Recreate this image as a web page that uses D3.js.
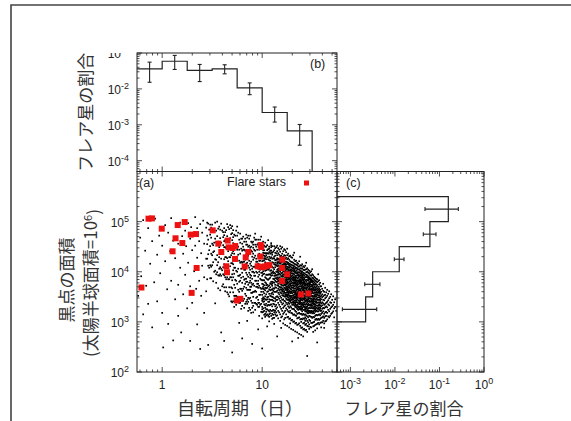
<!DOCTYPE html>
<html>
<head>
<meta charset="utf-8">
<script src="https://cdn.jsdelivr.net/npm/d3@7"></script>
<style>
  body { margin: 0; background: #fff; }
  svg { display: block; font-family: "Liberation Sans", Arial, sans-serif; }
  .jp { font-family: "Noto Sans CJK JP", sans-serif; fill: #333; }
</style>
</head>
<body>
<div id="chart"></div>
<script>
// ---- (b) flare-star fraction per rotation-period bin ----
const periodBinEdges = [0.56, 1, 1.78, 3.16, 5.62, 10, 17.8, 31.6];
const periodFraction = [0.036, 0.059, 0.033, 0.036, 0.0107, 0.0022, 0.00068];
const periodFracLow  = [0.0153, 0.0348, 0.016, 0.0263, 0.0069, 0.00119, 0.00027];
const periodFracHigh = [0.0556, 0.0857, 0.048, 0.047, 0.0147, 0.00313, 0.00102];

// ---- (c) flare-star fraction per spot-area bin ----
const areaBinEdges = [1000, 3162, 10000, 31623, 100000, 316228];
const areaFraction = [0.0022, 0.00316, 0.0125, 0.061, 0.158];
const areaFracLow  = [0.00066, 0.0021, 0.00968, 0.0433, 0.0473];
const areaFracHigh = [0.0039, 0.0046, 0.016, 0.0836, 0.265];

// ---- (a) flare stars: period (days), spot area (1e-6 hemisphere) ----
const flarePeriod = [0.73, 0.79, 0.99, 1.43, 1.68, 1.36, 1.59, 1.27, 1.93, 2.18, 3.20, 2.21, 0.62, 1.97,
  3.64, 4.52, 3.90, 4.62, 5.07, 5.38, 5.35, 4.38, 4.45, 5.56, 6.04, 7.26, 6.84, 6.68, 9.66, 9.79,
  9.57, 9.02, 9.96, 10.6, 11.2, 11.8, 15.9, 15.8, 17.8, 15.8, 24.3, 28.9];
const flareArea = [114500, 116000, 72400, 85400, 98000, 46500, 37400, 25600, 55000, 56500, 67000, 11900, 4850, 3790,
  36400, 41800, 24800, 30700, 29800, 32600, 18000, 12850, 9770, 2670, 2880, 24800, 19400, 12700, 34100, 31200,
  20100, 12850, 12300, 12700, 13300, 13500, 17500, 11900, 8900, 6560, 3520, 3680];

// ---- (a) all stars, read off the cloud column by column ----
// [log10 period, "log10 area x100 ..."]
const starColumns = [
  [-0.24,"352"],[-0.22,"468"],[-0.21,"391"],[-0.19,"503 315"],[-0.17,"442"],[-0.16,"372"],[-0.14,"487 336"],
  [-0.12,"416"],[-0.1,"461 289"],[-0.08,"379"],[-0.07,"506"],[-0.05,"434 341"],[-0.03,"472"],[-0.02,"397"],
  [0.0,"452 318"],[0.01,"249"],[0.03,"493 421"],[0.05,"365"],[0.06,"478 296"],[0.08,"441"],[0.09,"507 382"],
  [0.11,"462 263"],[0.13,"427 345"],[0.14,"489"],[0.16,"456 374 312"],[0.18,"498 408"],[0.19,"279"],[0.2,"471"],
  [0.21,"436 355"],[0.23,"482 394"],[0.24,"451"],[0.25,"327"],[0.26,"497 418"],[0.28,"466 371 262"],[0.29,"489"],
  [0.3,"443 338"],[0.32,"476 401"],[0.33,"509 452"],[0.34,"366"],[0.35,"487 428 295"],[0.37,"461 382"],
  [0.38,"495 246"],[0.39,"437 352"],[0.4,"478 412"],[0.41,"502"],[0.42,"456 389 318"],[0.44,"488 426 361"],
  [0.45,"498 472 455 426 385"],[0.46,"496 464 435 412 254"],[0.47,"484 443 408"],[0.48,"494 474 451 413 387"],
  [0.49,"488 468 436 410 387"],[0.5,"494 456 433 413"],[0.51,"482 453 439 419 381"],[0.52,"484 458 441 400"],
  [0.53,"498 466 425 402 337"],[0.54,"482 459 424 395 378"],[0.55,"500 471 433 413 399"],[0.56,"486 460 419 393 367"],
  [0.57,"490 449 429 406 392"],[0.58,"484 467 435 409 395 363"],[0.59,"496 458 426 406 392 279"],[0.6,"482 441 403 371"],
  [0.61,"479 469 453 435 409 395 375"],[0.62,"487 473 461 449 425 415 393 369 262"],[0.63,"479 463 449 429 401 389 361"],
  [0.64,"483 461 447 429 413 385 369"],[0.65,"495 471 447 427 401 389 359"],[0.66,"489 461 441 421 397 385 355"],
  [0.67,"485 463 451 429 401 385 369 351"],[0.68,"493 467 451 429 411 389 359"],[0.69,"487 475 447 433 417 389 369 341"],
  [0.7,"491 477 463 437 417 395 383 367 339 239"],[0.71,"483 469 457 441 415 403 389 359 341"],
  [0.72,"474 452 436 422 408 396 374 352 330"],[0.73,"472 448 428 408 384 368 352"],[0.74,"482 454 424 402 382 352 334"],
  [0.75,"490 472 444 430 400 376 350"],[0.76,"478 450 434 406 392 364 348"],[0.77,"464 444 422 392 380 360 338 298"],
  [0.78,"476 458 436 418 394 382 366 338"],[0.79,"466 446 420 406 388 366 350 326"],
  [0.8,"466 456 442 418 398 378 362 342 332 267"],[0.81,"470 450 444 420 408 390 366 342"],
  [0.82,"460 444 420 404 384 370 346 328"],[0.83,"466 442 424 404 386 376 356 336"],
  [0.84,"474 460 454 434 416 398 386 380 368 352 340"],[0.85,"468 454 434 418 394 380 364 344 336 302"],
  [0.86,"472 450 440 432 412 390 374 364 348 340 322"],[0.87,"466 452 442 422 408 398 378 364 346 328"],
  [0.88,"472 448 440 416 404 394 388 382 370 364 348 324"],[0.89,"460 450 442 420 412 392 378 370 358 342 318"],
  [0.9,"458 440 430 406 400 386 374 358 338 328 256"],[0.91,"460 454 448 436 424 410 400 376 360 350 332 319"],
  [0.92,"468 444 428 410 398 392 372 360 338"],[0.93,"476 464 454 442 432 410 392 382 362 338 324"],
  [0.94,"464 450 426 420 400 382 370 360 348 336"],[0.95,"454 444 420 398 376 370 350 334"],
  [0.96,"464 456 432 416 406 390 382 376 368 344 338 330 285"],[0.97,"454 444 436 422 400 394 372 354 338 330 312"],
  [0.98,"464 454 432 422 410 404 386 368 354 334"],[0.99,"470 446 434 412 398 384 366 360 336 320"],
  [1.0,"458 454 445 433 427 421 414 409 398 392 383 376 367 354 346 342 330 325 319 307 247"],
  [1.01,"460 448 443 438 433 422 414 405 401 395 383 375 370 366 360 349 345 340 327 320"],
  [1.02,"452 443 437 432 427 423 414 405 396 383 373 365 357 347 341 335 322 314"],
  [1.03,"458 450 437 430 426 419 407 402 389 379 368 363 351 345 333 328 316 310"],
  [1.04,"450 437 433 425 416 410 403 394 387 377 373 367 355 344 336 325 320 313"],
  [1.05,"453 443 437 429 416 405 394 385 374 368 360 349 345 332 325 315 291"],
  [1.06,"463 445 436 425 417 404 394 384 371 361 350 340 334 323 312"],
  [1.07,"450 446 439 430 423 414 406 395 386 373 365 356 345 340 333 321 315 310 301"],
  [1.08,"442 436 427 422 412 402 394 388 377 369 363 352 344 334 324 317"],
  [1.09,"457 453 449 442 438 429 416 403 397 392 380 375 364 356 351 344 335 322 312"],
  [1.1,"451 438 434 426 419 410 399 393 380 376 372 365 358 350 344 331 322 316 306"],
  [1.11,"440 427 418 408 401 397 386 379 367 362 355 349 342 336 324 314 308"],
  [1.12,"451 443 430 426 415 405 398 392 385 378 366 360 347 335 323 319 308 296"],
  [1.13,"447 438 432 423 418 414 409 396 392 387 382 374 369 360 347 341 331 322 315"],
  [1.14,"449 437 424 413 400 393 387 380 368 360 350 344 334 326 319 312"],
  [1.15,"452 441 433 427 424 419 416 411 404 400 394 389 385 380 373 362 351 344 329 313 271"],
  [1.16,"447 437 426 419 413 406 402 398 394 387 382 376 372 366 358 349 338 322 307"],
  [1.17,"444 434 425 421 417 410 406 402 396 389 384 381 377 370 363 355 346 334 319"],
  [1.18,"451 440 431 424 419 416 409 403 400 394 387 383 376 369 365 359 351 342 330 315 302"],
  [1.19,"446 432 423 418 411 407 404 397 391 386 379 374 369 364 357 348 339 326 309 288"],
  [1.2,"449 436 429 423 420 414 407 404 398 393 390 384 380 373 367 363 360 353 344 335 322 311"],
  [1.21,"441 430 422 415 408 401 395 391 384 381 377 372 365 361 356 352 345 337 328 316 297"],
  [1.22,"445 433 427 421 418 415 409 406 400 394 387 380 376 373 368 361 358 351 342 331 319 305"],
  [1.23,"443 432 426 420 416 414 411 408 402 399 396 394 389 384 380 375 373 367 364 358 354 350 341 333 322 308 294"],
  [1.24,"439 428 420 414 410 406 404 400 394 391 388 385 383 378 375 371 368 364 358 354 352 346 338 327 315"],
  [1.25,"446 433 425 419 416 410 406 400 398 396 394 389 385 381 379 376 370 366 364 362 359 354 352 350 344 335 324 309 292"],
  [1.26,"436 427 418 415 409 405 402 400 398 396 392 388 384 378 373 369 365 360 357 354 348 344 338 331 321 310"],
  [1.27,"431 424 416 412 408 402 399 397 394 388 386 380 375 370 368 362 359 353 351 345 342 336 328 319 306 289"],
  [1.28,"432 421 415 411 405 403 399 395 392 389 385 382 377 375 372 366 361 357 352 350 347 343 340 331 322 307 297"],
  [1.29,"429 420 414 409 404 401 397 391 386 381 377 372 369 365 360 358 352 349 344 338 329 318 303 286"],
  [1.3,"428 419 413 407 403 397 393 388 384 378 373 368 362 357 352 347 344 339 334 326 317 304 261"],
  [1.31,"433 418 412 408 406 401 396 391 388 386 383 379 376 372 368 363 359 353 349 345 340 338 335 326 314 300 284"],
  [1.32,"438 424 416 411 405 402 400 395 389 385 382 378 376 371 366 362 359 354 350 347 342 338 333 325 315 301"],
  [1.33,"421 415 409 406 400 398 392 389 386 384 382 379 377 373 367 361 358 356 350 348 343 339 337 334 330 322 313 297 281"],
  [1.34,"422 414 408 402 397 392 389 383 381 377 374 370 365 362 356 354 352 349 346 342 339 333 329 320 312 298"],
  [1.35,"418 413 407 404 399 397 393 387 383 378 375 373 368 365 359 357 354 351 348 345 339 334 331 326 316 307 294 279"],
  [1.36,"416 410 405 399 395 392 388 382 380 375 370 367 364 361 358 352 349 343 337 331 329 324 317 308 295 268"],
  [1.37,"421 411 404 399 393 391 385 382 380 377 371 367 363 357 351 347 341 338 335 330 326 318 309 297 276"],
  [1.38,"430 413 407 402 396 392 388 384 382 380 378 375 371 365 362 356 354 352 347 344 342 340 336 330 327 325 316 305 292"],
  [1.39,"412 406 401 398 396 392 388 383 381 379 377 371 367 361 358 356 350 348 344 338 334 331 327 324 316 306 300 288 274"],
  [1.4,"415 407 400 395 393 390 387 384 378 374 372 368 364 358 356 351 347 343 337 334 328 326 321 314 305 289"],
  [1.41,"411 404 398 394 389 384 382 379 376 370 367 364 362 358 353 347 345 339 335 333 330 324 316 307 297 285 271"],
  [1.42,"409 403 397 392 387 385 380 378 376 373 369 366 362 359 353 349 346 344 338 335 330 324 314 306 298 286"],
  [1.43,"412 404 395 389 383 377 375 372 367 361 358 353 351 347 342 340 334 329 327 324 321 315 309 302 294 283"],
  [1.44,"418 405 399 394 390 384 380 375 369 367 364 358 354 350 345 342 336 330 327 321 313 306 296 284"],
  [1.45,"407 400 393 389 383 377 374 372 368 362 357 354 351 345 342 339 334 330 325 322 318 311 302 292 280 232"],
  [1.46,"404 398 391 388 385 382 376 371 365 359 355 352 348 345 341 336 333 327 323 321 317 309 299 291"],
  [1.47,"402 396 389 387 385 379 377 375 373 369 366 362 356 354 351 347 342 340 334 328 322 319 312 304 295 286"],
  [1.48,"399 393 387 384 381 378 375 370 365 363 357 353 350 346 340 335 332 327 321 318 311 302 290"],
  [1.49,"401 392 385 382 380 374 371 366 364 361 356 352 346 342 340 335 332 328 322 319 310 298 289"],
  [1.5,"405 395 388 383 381 379 373 370 365 361 358 352 350 344 341 337 332 327 321 317 308 298"],
  [1.51,"393 387 381 376 374 368 366 363 357 351 347 345 342 340 338 335 329 327 321 318 310 299 291 280"],
  [1.52,"390 384 379 374 370 365 362 358 353 350 346 341 336 334 330 327 323 317 309 300 292"],
  [1.53,"388 382 377 374 368 365 363 358 354 350 344 340 335 331 327 324 320 312 304 294 283"],
  [1.54,"386 381 375 370 365 360 358 354 351 346 341 338 333 328 322 314 306 295"],
  [1.55,"385 379 373 367 363 358 354 348 344 338 332 326 321 313 304 296 287 259"],
  [1.56,"395 381 370 365 361 358 353 349 344 339 333 329 326 321 314 306 298"],
  [1.57,"383 375 367 363 360 358 353 349 344 338 335 333 329 324 315 304 295"],
  [1.58,"378 371 364 359 356 350 346 342 339 333 328 326 322 313 306 298"],
  [1.59,"371 360 352 345 337 331 322 316 308 299 289"],
  [1.6,"366 355 349 339 333 326 318 309 299"],
  [1.61,"376 362 351 344 337 328 321 311 302"],
  [1.62,"360 353 343 334 327 316 308 297 288"],
  [1.63,"368 354 347 336 329 319 311 301"],
  [1.64,"359 349 338 331 320 312 302"],
  [1.65,"364 352 340 329 318 305"],
  [1.66,"356 343 335 324 311"],
  [1.67,"361 347 333 321 309"],
  [1.68,"350 339 326 312"],
  [1.69,"355 338 329 316"],
  [1.7,"344 331 318"],
  [1.71,"351 334 321"],
  [1.72,"339 327 309"],
  [1.73,"345 330"],
  [1.74,"322"]
];
const starDots = [];
starColumns.forEach(([lp, s]) => {
    s.split(" ").forEach(v => starDots.push({ p: 10 ** lp, a: 10 ** (+v / 100) }));
});

// tick values
const periodTicks = [1, 10];
const areaTickExp = [2, 3, 4, 5];
const fracTickExp = [-4, -3, -2, -1];
const fracXTickExp = [-3, -2, -1, 0];

const W = 571, H = 421;
const plotLeft = 137, plotMid = 337, plotRight = 484, plotTop = 53, plotSplit = 171.5, plotBottom = 372;

const svg = d3.select("#chart").append("svg")
    .attr("width", W)
    .attr("height", H);

const xP = d3.scaleLog().domain([0.56, 56]).range([plotLeft, plotMid]);
const yA = d3.scaleLog().domain([1e2, 1e6]).range([plotBottom, plotSplit]);
const yF = d3.scaleLog().domain([5e-5, 0.1]).range([plotSplit, plotTop]);
const xF = d3.scaleLog().domain([5e-4, 1]).range([plotMid, plotRight]);

// outer frame
svg.append("path")
    .attr("d", `M11,${H} V5 H${W}`)
    .attr("fill", "none")
    .attr("stroke", "#444")
    .attr("stroke-width", 1.6);

svg.append("clipPath").attr("id", "clipA")
    .append("rect")
    .attr("x", plotLeft).attr("y", plotSplit)
    .attr("width", plotMid - plotLeft).attr("height", plotBottom - plotSplit);

// scatter
const dotSize = 1.7;
const dots = svg.append("g").attr("clip-path", "url(#clipA)");
dots.selectAll("rect")
    .data(starDots)
    .enter()
    .append("rect")
    .attr("x", d => xP(d.p) - dotSize / 2)
    .attr("y", d => yA(d.a) - dotSize / 2)
    .attr("width", dotSize)
    .attr("height", dotSize)
    .attr("fill", "#000");

const flares = flarePeriod.map((p, i) => ({ p: p, a: flareArea[i] }));
svg.append("g").selectAll("rect")
    .data(flares)
    .enter()
    .append("rect")
    .attr("x", d => xP(d.p) - 3)
    .attr("y", d => yA(d.a) - 3)
    .attr("width", 6)
    .attr("height", 6)
    .attr("fill", "#ee1111");

// (b) histogram
let pathB = `M${xP(periodBinEdges[0])},${yF(periodFraction[0])}`;
periodFraction.forEach((v, i) => {
    pathB += ` H${xP(periodBinEdges[i + 1])}`;
    pathB += (i + 1 < periodFraction.length) ? ` V${yF(periodFraction[i + 1])}` : ` V${plotSplit}`;
});
svg.append("path").attr("d", pathB)
    .attr("fill", "none").attr("stroke", "#222").attr("stroke-width", 1.2);

const errB = svg.append("g").attr("stroke", "#222").attr("stroke-width", 1.1);
periodFraction.forEach((v, i) => {
    const cx = xP(Math.sqrt(periodBinEdges[i] * periodBinEdges[i + 1]));
    errB.append("line").attr("x1", cx).attr("x2", cx)
        .attr("y1", yF(periodFracLow[i])).attr("y2", yF(periodFracHigh[i]));
    [periodFracLow[i], periodFracHigh[i]].forEach(e => {
        errB.append("line").attr("x1", cx - 2).attr("x2", cx + 2)
            .attr("y1", yF(e)).attr("y2", yF(e));
    });
});

// (c) histogram
const nC = areaFraction.length;
let pathC = `M${plotMid},${yA(areaBinEdges[nC])}`;
for (let i = nC - 1; i >= 0; i--) {
    pathC += ` H${xF(areaFraction[i])} V${yA(areaBinEdges[i])}`;
}
pathC += ` H${plotMid}`;
svg.append("path").attr("d", pathC)
    .attr("fill", "none").attr("stroke", "#222").attr("stroke-width", 1.2);

const errC = svg.append("g").attr("stroke", "#222").attr("stroke-width", 1.1);
areaFraction.forEach((v, i) => {
    const cy = yA(Math.sqrt(areaBinEdges[i] * areaBinEdges[i + 1]));
    errC.append("line").attr("y1", cy).attr("y2", cy)
        .attr("x1", xF(areaFracLow[i])).attr("x2", xF(areaFracHigh[i]));
    [areaFracLow[i], areaFracHigh[i]].forEach(e => {
        errC.append("line").attr("y1", cy - 2).attr("y2", cy + 2)
            .attr("x1", xF(e)).attr("x2", xF(e));
    });
});

// boxes with inward log ticks on all four sides
function isMajor(t) {
    const l = Math.log10(t);
    return Math.abs(l - Math.round(l)) < 1e-6;
}
function frame(x, y) {
    const g = svg.append("g").attr("stroke", "#222").attr("fill", "none");
    const [x0, x1] = x.range(), [y0, y1] = y.range();
    g.append("rect").attr("x", x0).attr("y", y1)
        .attr("width", x1 - x0).attr("height", y0 - y1).attr("stroke-width", 1);
    x.ticks().forEach(t => {
        const len = isMajor(t) ? 5 : 2.5, px = x(t);
        g.append("line").attr("x1", px).attr("x2", px).attr("y1", y0).attr("y2", y0 - len).attr("stroke-width", 0.8);
        g.append("line").attr("x1", px).attr("x2", px).attr("y1", y1).attr("y2", y1 + len).attr("stroke-width", 0.8);
    });
    y.ticks().forEach(t => {
        const len = isMajor(t) ? 5 : 2.5, py = y(t);
        g.append("line").attr("y1", py).attr("y2", py).attr("x1", x0).attr("x2", x0 + len).attr("stroke-width", 0.8);
        g.append("line").attr("y1", py).attr("y2", py).attr("x1", x1).attr("x2", x1 - len).attr("stroke-width", 0.8);
    });
}
frame(xP, yA);
frame(xP, yF);
frame(xF, yA);

// tick labels
function powLabel(g, exp, x, y, anchor) {
    const t = g.append("text").attr("x", x).attr("y", y)
        .attr("text-anchor", anchor)
        .style("font-size", "12px").style("fill", "#222");
    t.append("tspan").text("10");
    t.append("tspan").attr("dy", -5).style("font-size", "9px").text(exp);
    return t;
}

svg.append("clipPath").attr("id", "clipB")
    .append("rect").attr("x", 0).attr("y", plotTop).attr("width", plotLeft).attr("height", H);
const labB = svg.append("g").attr("clip-path", "url(#clipB)");
fracTickExp.forEach(e => powLabel(labB, e, 129, yF(10 ** e) + 5, "end"));
areaTickExp.forEach(e => powLabel(svg, e, 129, yA(10 ** e) + 5, "end"));
fracXTickExp.forEach(e => powLabel(svg, e, xF(10 ** e), 389, "middle"));
periodTicks.forEach(p => {
    svg.append("text").attr("x", xP(p)).attr("y", 389)
        .attr("text-anchor", "middle")
        .style("font-size", "12px").style("fill", "#222")
        .text(d3.format("d")(p));
});

// panel tags and legend
const tag = (txt, x, y) => svg.append("text").attr("x", x).attr("y", y)
    .style("font-size", "12.5px").style("fill", "#222").text(txt);
tag("(a)", 139, 187);
tag("(b)", 310, 68);
tag("(c)", 346, 187);
tag("Flare stars", 227, 186);
svg.append("rect").attr("x", 304).attr("y", 180.5).attr("width", 5).attr("height", 5).attr("fill", "#ee1111");

// axis titles
svg.append("text").attr("class", "jp")
    .attr("transform", `translate(86,${(plotTop + plotSplit) / 2}) rotate(-90)`)
    .attr("text-anchor", "middle").attr("dy", "0.35em")
    .style("font-size", "17px")
    .text("フレア星の割合");

svg.append("text").attr("class", "jp")
    .attr("transform", "translate(67,280) rotate(-90)")
    .attr("text-anchor", "middle").attr("dy", "0.35em")
    .style("font-size", "17px")
    .text("黒点の面積");

const sub = svg.append("text").attr("class", "jp")
    .attr("transform", "translate(91,283) rotate(-90)")
    .attr("text-anchor", "middle").attr("dy", "0.35em")
    .style("font-size", "17px");
sub.append("tspan").text("(太陽半球面積=10");
sub.append("tspan").attr("dy", "-0.45em").style("font-size", "11px").text("6");
sub.append("tspan").attr("dy", "0.45em").text(")");

svg.append("text").attr("class", "jp")
    .attr("x", 240).attr("y", 415)
    .attr("text-anchor", "middle")
    .style("font-size", "18px")
    .text("自転周期（日）");

svg.append("text").attr("class", "jp")
    .attr("x", 404).attr("y", 415)
    .attr("text-anchor", "middle")
    .style("font-size", "17px")
    .text("フレア星の割合");
</script>
</body>
</html>
